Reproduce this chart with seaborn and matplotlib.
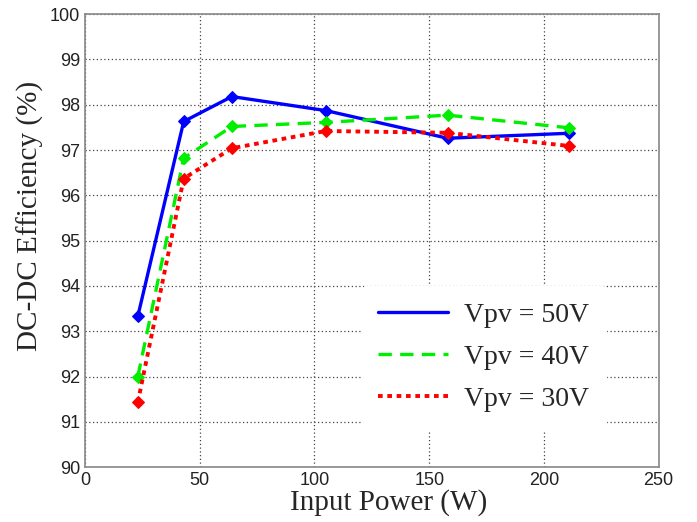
import matplotlib
matplotlib.use("Agg")
import matplotlib.pyplot as plt
import seaborn as sns
import pandas as pd
from matplotlib.lines import Line2D

power = [23, 43, 64, 105, 158, 211]
eff_50 = [93.33, 97.63, 98.18, 97.87, 97.26, 97.37]
eff_40 = [92.00, 96.82, 97.52, 97.61, 97.77, 97.49]
eff_30 = [91.43, 96.37, 97.04, 97.42, 97.38, 97.09]
labels = ["Vpv = 50V", "Vpv = 40V", "Vpv = 30V"]
colors = ["#0000ff", "#00ee00", "#ff0000"]
styles = ["-", (0, (4, 2.5)), (0, (1.2, 1.2))]
widths = [2.4, 2.4, 2.8]

sns.set_style("white")
plt.rcParams['font.family'] = ['Liberation Sans', 'DejaVu Sans']

fig = plt.figure(figsize=(6.97, 5.22), dpi=100)
ax = fig.add_axes([0.122, 0.105, 0.823, 0.868])

for lab, vals, c, ls, lw in zip(labels, [eff_50, eff_40, eff_30], colors, styles, widths):
    df = pd.DataFrame({"power": power, "eff": vals})
    sns.lineplot(data=df, x="power", y="eff", ax=ax, color=c, linestyle=ls,
                 linewidth=lw, marker="D", markersize=6.5, markeredgecolor=c,
                 markerfacecolor=c, label=lab)

ax.set_xlim(0, 250)
ax.set_ylim(90, 100)
ax.set_xticks(range(0, 251, 50))
ax.set_yticks(range(90, 101, 1))
ax.tick_params(direction="in", labelsize=13, colors="#222222", length=4)
ax.grid(True, linestyle=(0, (1, 2)), color="#444444", linewidth=0.9)
for s in ax.spines.values():
    s.set_color("#888888")
    s.set_linewidth(1.2)

ax.set_xlabel("Input Power (W)", family=["Liberation Serif"], fontsize=21)
ax.set_ylabel("DC-DC Efficiency (%)", family=["Liberation Serif"], fontsize=21)
ax.xaxis.set_label_coords(0.53, -0.048)
ax.yaxis.set_label_coords(-0.072, 0.554)

hh = [Line2D([], [], color=c, linestyle=ls, linewidth=lw) for c, ls, lw in zip(colors, styles, widths)]
leg = ax.legend(hh, labels, loc="center left", bbox_to_anchor=(0.458, 0.243),
                frameon=True, facecolor="white", edgecolor="white", framealpha=1,
                prop={"family": "Liberation Serif", "size": 20}, handlelength=2.5,
                labelspacing=0.6, handletextpad=0.6, borderpad=0.6)

fig.savefig("out.png", dpi=100)
